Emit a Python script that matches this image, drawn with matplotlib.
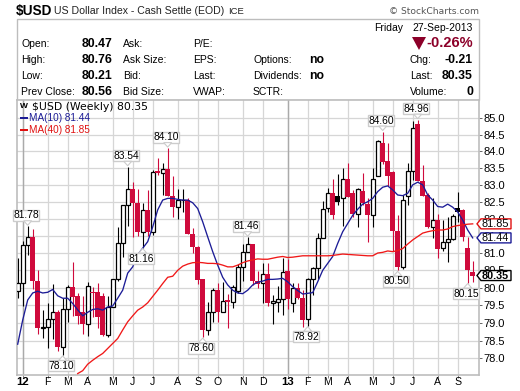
import numpy as np
import matplotlib
matplotlib.use('Agg')
import matplotlib.pyplot as plt
from matplotlib.patches import Polygon, Rectangle
from matplotlib.ticker import NullLocator
from matplotlib.transforms import IdentityTransform

plt.rcParams['font.family'] = ['Liberation Sans', 'DejaVu Sans']

# weekly candles
opens = [79.92, 80.15, 81.22, 81.48, 80.20, 78.86, 78.89, 79.10, 79.30, 78.33,
         79.38, 80.01, 79.76, 79.30, 78.98, 79.87, 79.87, 79.77, 78.67, 79.45,
         80.24, 81.28, 82.39, 82.87, 82.47, 81.60, 82.25, 81.60, 83.40, 83.35,
         83.47, 82.68, 82.35, 82.54, 82.55, 81.55, 81.18, 80.25, 78.80, 79.30,
         79.93, 79.30, 79.64, 79.60, 79.92, 80.60, 81.02, 81.25, 80.18, 80.13,
         80.38, 79.55, 79.60, 79.67, 80.48, 79.55, 80.00, 79.72, 79.10, 80.24,
         80.56, 81.45, 82.33, 82.75, 82.66, 82.60, 83.17, 82.75, 82.15, 82.82,
         82.42, 82.12, 83.27, 84.25, 83.70, 83.37, 81.65, 80.60, 82.68, 83.42,
         84.82, 83.12, 82.70, 81.75, 81.97, 81.15, 81.31, 81.40, 82.33, 82.25,
         81.14, 80.45]
highs = [80.85, 81.35, 81.78, 81.69, 80.50, 79.37, 79.55, 80.10, 79.37, 79.70,
         80.08, 80.73, 79.84, 79.75, 80.16, 80.03, 80.15, 79.84, 79.75, 80.25,
         81.75, 82.39, 83.54, 83.08, 82.87, 82.47, 82.85, 83.43, 83.80, 83.65,
         84.10, 83.25, 82.87, 82.87, 82.60, 81.72, 81.20, 80.25, 79.60, 79.98,
         80.13, 80.17, 79.82, 80.08, 80.67, 81.25, 81.46, 81.25, 80.47, 80.70,
         80.70, 79.80, 80.05, 80.85, 80.82, 80.15, 80.15, 79.93, 80.27, 80.60,
         81.57, 82.52, 82.92, 83.17, 83.32, 83.50, 83.65, 82.85, 82.90, 83.35,
         82.60, 83.50, 84.35, 84.60, 84.25, 83.40, 82.10, 82.70, 83.65, 84.92,
         84.96, 83.60, 82.75, 82.60, 82.15, 81.97, 82.05, 82.15, 82.80, 82.30,
         81.47, 80.76]
lows = [79.70, 79.49, 80.95, 79.96, 78.70, 78.58, 78.30, 78.55, 78.20, 78.10,
        79.03, 79.20, 78.98, 78.68, 78.63, 79.18, 78.85, 78.63, 78.60, 79.45,
        80.20, 80.88, 81.80, 81.47, 81.50, 81.16, 81.50, 81.53, 83.30, 82.70,
        82.68, 82.05, 82.00, 82.20, 81.55, 81.00, 80.12, 78.60, 78.66, 79.03,
        79.03, 79.30, 78.85, 79.42, 79.85, 80.20, 81.02, 80.08, 80.00, 79.55,
        79.48, 78.98, 79.30, 79.23, 79.40, 79.30, 79.68, 78.88, 78.92, 79.80,
        80.24, 81.45, 82.20, 82.00, 82.40, 81.78, 82.65, 82.05, 81.75, 82.40,
        81.33, 81.75, 83.27, 83.62, 82.97, 81.05, 80.50, 80.55, 82.40, 83.15,
        83.12, 82.68, 81.72, 81.45, 80.87, 81.05, 80.75, 81.38, 81.90, 81.35,
        80.15, 80.17]
closes = [80.15, 81.22, 81.48, 80.20, 78.86, 78.89, 79.10, 79.30, 78.33, 79.38,
          80.01, 79.74, 79.20, 78.98, 80.06, 79.84, 79.17, 78.66, 79.45, 80.24,
          81.28, 82.39, 82.87, 82.47, 81.60, 82.25, 81.60, 83.38, 83.35, 83.47,
          82.68, 82.34, 82.55, 82.56, 81.55, 81.18, 80.22, 78.80, 79.30, 79.93,
          79.30, 79.62, 79.60, 80.03, 80.60, 81.02, 81.25, 80.18, 80.12, 80.38,
          79.55, 79.62, 79.67, 80.46, 79.67, 80.00, 79.70, 79.08, 80.24, 80.56,
          81.45, 82.30, 82.75, 82.10, 82.49, 83.17, 82.65, 82.15, 82.87, 82.45,
          82.10, 83.17, 84.32, 83.67, 83.27, 81.65, 80.60, 82.55, 83.42, 84.70,
          83.12, 82.68, 81.77, 81.97, 81.12, 81.33, 81.40, 82.07, 82.20, 81.47,
          80.50, 80.35]
ma10 = [78.40, 79.08, 79.65, 79.85, 79.90, 79.85, 79.87, 79.95, 79.77, 79.70,
        79.70, 79.55, 79.37, 79.20, 79.30, 79.38, 79.40, 79.36, 79.45, 79.48,
        79.70, 79.93, 80.42, 80.60, 80.95, 81.14, 81.33, 81.76, 82.26, 82.55,
        82.60, 82.60, 82.57, 82.55, 82.55, 82.47, 82.30, 81.91, 81.47, 81.04,
        80.65, 80.30, 80.08, 79.93, 79.85, 79.83, 79.93, 80.08, 80.16, 80.19,
        80.24, 80.24, 80.25, 80.27, 80.17, 80.03, 79.92, 79.82, 79.84, 79.86,
        80.17, 80.50, 80.70, 80.90, 81.28, 81.62, 81.86, 82.10, 82.28, 82.43,
        82.50, 82.60, 82.80, 82.93, 82.97, 82.85, 82.70, 82.68, 82.75, 83.00,
        83.08, 83.00, 82.70, 82.55, 82.36, 82.34, 82.43, 82.34, 82.20, 81.96,
        81.67, 81.44]
# the 40 week average only starts inside the frame at week 12
ma40_first_week = 12
ma40 = [77.58, 77.66, 77.84, 77.95, 78.05, 78.14, 78.28, 78.42, 78.56, 78.80,
        79.03, 79.20, 79.36, 79.45, 79.57, 79.75, 79.93, 80.12, 80.30, 80.33,
        80.50, 80.62, 80.68, 80.72, 80.73, 80.72, 80.70, 80.70, 80.69, 80.65,
        80.60, 80.60, 80.65, 80.72, 80.77, 80.80, 80.83, 80.82, 80.82, 80.85,
        80.88, 80.90, 80.87, 80.88, 80.90, 80.92, 80.92, 80.92, 80.92, 80.92,
        80.92, 80.93, 80.95, 80.97, 80.96, 80.95, 80.94, 80.93, 80.92, 80.92,
        81.00, 81.02, 81.06, 81.04, 81.07, 81.13, 81.26, 81.38, 81.48, 81.58,
        81.62, 81.65, 81.67, 81.67, 81.70, 81.77, 81.80, 81.82, 81.84, 81.85]

month_weeks = [1, 6, 10, 14, 19, 23, 27, 32, 36, 40, 45, 49, 54, 58, 62, 66, 71, 75, 79, 84, 88]
month_labels = ['12', 'F', 'M', 'A', 'M', 'J', 'J', 'A', 'S', 'O', 'N', 'D',
                '13', 'F', 'M', 'A', 'M', 'J', 'J', 'A', 'S']
y_ticks = [78.0, 78.5, 79.0, 79.5, 80.0, 80.5, 81.0, 81.5, 82.0, 82.5, 83.0, 83.5, 84.0, 84.5, 85.0]

# week, value, text, side of the candle
callouts = [(2, 81.78, '81.78', 'up'), (22, 83.54, '83.54', 'up'), (30, 84.10, '84.10', 'up'),
            (25, 81.16, '81.16', 'down'), (9, 78.10, '78.10', 'down'), (37, 78.60, '78.60', 'down'),
            (46, 81.46, '81.46', 'up'), (58, 78.92, '78.92', 'down'), (73, 84.60, '84.60', 'up'),
            (80, 84.96, '84.96', 'up'), (76, 80.50, '80.50', 'down'), (90, 80.15, '80.15', 'down')]

left_labels = ['Open:', 'High:', 'Low:', 'Prev Close:']
left_values = ['80.47', '80.76', '80.21', '80.56']
ask_labels = ['Ask:', 'Ask Size:', 'Bid:', 'Bid Size:']
pe_labels = ['P/E:', 'EPS:', 'Last:', 'VWAP:']
opt_labels = ['Options:', 'Dividends:', 'SCTR:']
opt_values = ['no', 'no', '']
chg_labels = ['Chg:', 'Last:', 'Volume:']
chg_values = ['-0.21', '80.35', '0']

W, H = 520, 391
RED = '#cf0a3c'
DARKRED = '#8c0029'
NAVY = '#1c1c96'
GRID = '#d6d6d6'
FRAME = '#bdbdbd'

fig = plt.figure(figsize=(W / 100, H / 100), dpi=100, facecolor='white')
ax = fig.add_axes([17 / W, 1 - 375 / H, (479 - 17) / W, (375 - 100) / H])


def put(x, y, s, **kw):
    # x, y in image pixels, y measured from the top
    kw.setdefault('fontsize', 7.5)
    kw.setdefault('va', 'center')
    fig.text(x / W, 1 - y / H, s, **kw)


def px_shape(points, **kw):
    fig.add_artist(Polygon([(x, H - y) for x, y in points], closed=True,
                           transform=IdentityTransform(), **kw))


# header
fig.add_artist(Rectangle((17 / W, 1 - 100 / H), 462 / W, 81 / H, transform=fig.transFigure,
                         facecolor='white', edgecolor=FRAME, linewidth=1))
put(16, 11, '$USD', fontsize=9.8, fontweight='bold')
put(54, 11, 'US Dollar Index - Cash Settle (EOD)', fontsize=7.6, color='#222222')
put(228, 11, 'ICE', fontsize=6.8, color='#222222')
put(479, 11, '© StockCharts.com', fontsize=6.6, color='#555555', ha='right',
    family=['DejaVu Sans'])

rows = [44, 60, 76, 92]
for y, a, b, c, d in zip(rows, left_labels, left_values, ask_labels, pe_labels):
    put(21, y, a)
    put(81.5, y, b, fontweight='bold', fontsize=8.8)
    put(123, y, c)
    put(193, y, d)
for y, a, b in zip(rows[1:], opt_labels, opt_values):
    put(253, y, a)
    put(309, y, b, fontweight='bold', fontsize=8.8)
for y, a, b in zip(rows[1:], chg_labels, chg_values):
    put(410, y, a)
    put(473, y, b, fontweight='bold', fontsize=8.8, ha='right')
put(374, 28, 'Friday')
put(473, 28, '27-Sep-2013', ha='right')
put(473, 43, '-0.26%', ha='right', fontsize=10.5, fontweight='bold', color=DARKRED)
px_shape([(412, 37), (426, 37), (419, 50)], facecolor=DARKRED, edgecolor='none')

# candles
weeks = np.arange(len(closes))
ax.set_yscale('log')
ax.set_xlim(-0.14, 92.26)
ax.set_ylim(77.54, 85.56)

for i in weeks:
    up = i == 0 or closes[i] >= closes[i - 1]
    col = 'black' if up else RED
    ax.plot([i, i], [lows[i], highs[i]], color=col, lw=0.8, zorder=3, solid_capstyle='butt')
    lo, hi = min(opens[i], closes[i]), max(opens[i], closes[i])
    if closes[i] < opens[i]:
        ax.bar(i, hi - lo, bottom=lo, width=0.95, color=col, linewidth=0, zorder=4)
    else:
        ax.bar(i, hi - lo, bottom=lo, width=0.72, facecolor='white', edgecolor=col,
               linewidth=0.9, zorder=4)

ax.plot(weeks, ma10, color=NAVY, lw=0.95, zorder=5)
ax.plot(weeks[ma40_first_week:], ma40, color='#f01818', lw=0.95, zorder=5)

# grid and axes
ax.yaxis.tick_right()
ax.yaxis.set_major_locator(plt.FixedLocator(y_ticks))
ax.yaxis.set_minor_locator(NullLocator())
ax.set_yticklabels(['%.1f' % v for v in y_ticks], fontsize=8)
ax.tick_params(axis='y', length=2, width=0.7, color='#666666', pad=1)
ax.set_xticks(month_weeks)
ax.set_xticklabels(month_labels, fontsize=7.6)
ax.tick_params(axis='x', length=2, width=0.7, color='#888888', pad=-0.5)
for t, s in zip(ax.get_xticklabels(), month_labels):
    if s in ('12', '13'):
        t.set_fontweight('bold')
        t.set_fontsize(8.2)
ax.grid(True, color=GRID, lw=0.9, zorder=0)
ax.set_axisbelow(True)
for w, s in zip(month_weeks, month_labels):
    if s in ('12', '13'):
        ax.axvline(w, color='#aaaaaa', lw=1, zorder=1)
for sp in ax.spines.values():
    sp.set_color(FRAME)
    sp.set_linewidth(1.2)

# legend in the corner
ax.set_zorder(1)
put(32, 107, '$USD (Weekly) 80.35', fontsize=7.8, family=['DejaVu Sans'], zorder=10)
put(19.5, 107, 'W', fontsize=6, fontweight='bold', zorder=10)
put(29, 118, 'MA(10) 81.44', color=NAVY, fontsize=7.2, zorder=10)
put(29, 130, 'MA(40) 81.85', color='#e01010', fontsize=7.2, zorder=10)
fig.add_artist(Rectangle((20 / W, 1 - 119 / H), 8 / W, 2 / H, transform=fig.transFigure,
                         facecolor=NAVY, edgecolor='none', zorder=10))
fig.add_artist(Rectangle((20 / W, 1 - 131 / H), 8 / W, 2 / H, transform=fig.transFigure,
                         facecolor='#e01010', edgecolor='none', zorder=10))


def data_px(week, value):
    x, y = ax.transData.transform((week, value))
    return x, H - y


# callouts at swing highs and lows
for week, value, text, side in callouts:
    x, y = data_px(week, value)
    s = 1 if side == 'up' else -1
    tip = y - s
    cy = tip - s * 10
    cx = x - 1.5
    px_shape([(cx - 13, cy - 5.5), (cx + 13, cy - 5.5), (cx + 13, cy + 5.5), (cx - 13, cy + 5.5)],
             facecolor='white', edgecolor='#cccccc', linewidth=1, zorder=11)
    base = cy + s * 5.5
    px_shape([(x - 4, base), (x, tip), (x + 4, base)], facecolor='white', edgecolor='#cccccc',
             linewidth=0.8, zorder=11)
    put(cx, cy, text, ha='center', fontsize=7.4, zorder=12)

# last value tags on the right
tags = [(ma40[-1], '81.85', '#e01010', 'normal'), (ma10[-1], '81.44', NAVY, 'normal'),
        (closes[-1], '80.35', 'black', 'bold')]
for value, text, col, weight in tags:
    _, y = data_px(91, value)
    px_shape([(477, y), (481, y - 5), (511, y - 5), (511, y + 5), (481, y + 5)],
             facecolor='white', edgecolor=col, linewidth=1, zorder=11)
    put(482, y, text, fontsize=7.8, fontweight=weight, zorder=12)

fig.savefig('out.png', dpi=100)
